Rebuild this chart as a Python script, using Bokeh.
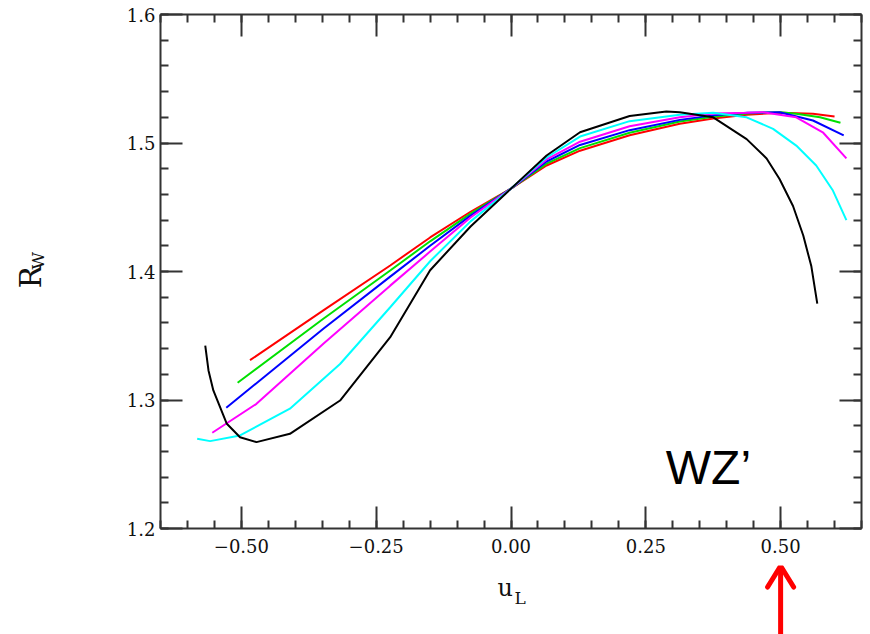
import numpy as np
from bokeh.plotting import figure
from bokeh.layouts import column
from bokeh.models import LinearAxis, FixedTicker, Label, Range1d
from bokeh.core.properties import value
from bokeh.embed import file_html
from bokeh.resources import INLINE

# ---- data ----
red_x = [-0.484, -0.348, -0.224, -0.150, -0.075, 0.0, 0.066, 0.128, 0.220, 0.313, 0.375, 0.437, 0.500, 0.560, 0.600]
red_y = [1.331, 1.3697, 1.4047, 1.4265, 1.4465, 1.4645, 1.4825, 1.494, 1.506, 1.515, 1.519, 1.522, 1.5235, 1.5227, 1.5206]

green_x = [-0.507, -0.348, -0.224, -0.150, -0.075, 0.0, 0.066, 0.128, 0.220, 0.313, 0.375, 0.437, 0.500, 0.529, 0.573, 0.611]
green_y = [1.3134, 1.3632, 1.4008, 1.4235, 1.445, 1.4645, 1.484, 1.496, 1.508, 1.5167, 1.5205, 1.523, 1.524, 1.5227, 1.520, 1.5157]

blue_x = [-0.528, -0.348, -0.224, -0.150, -0.075, 0.0, 0.066, 0.128, 0.220, 0.313, 0.375, 0.437, 0.498, 0.560, 0.617]
blue_y = [1.294, 1.3554, 1.396, 1.420, 1.4435, 1.4645, 1.4856, 1.4985, 1.510, 1.518, 1.5215, 1.5235, 1.524, 1.5175, 1.506]

magenta_x = [-0.554, -0.472, -0.348, -0.224, -0.150, -0.075, 0.0, 0.066, 0.128, 0.220, 0.313, 0.375, 0.437, 0.467, 0.529, 0.579, 0.622]
magenta_y = [1.2745, 1.297, 1.3437, 1.389, 1.4155, 1.442, 1.4645, 1.4872, 1.501, 1.513, 1.520, 1.523, 1.5235, 1.524, 1.520, 1.508, 1.488]

cyan_x = [-0.582, -0.558, -0.5025, -0.41, -0.317, -0.224, -0.150, -0.075, 0.0, 0.066, 0.128, 0.220, 0.313, 0.375, 0.437, 0.486, 0.529, 0.566, 0.597, 0.622]
cyan_y = [1.2698, 1.268, 1.2724, 1.2932, 1.328, 1.3722, 1.408, 1.439, 1.4645, 1.4887, 1.505, 1.517, 1.522, 1.5235, 1.520, 1.511, 1.498, 1.4825, 1.463, 1.440]

black_x = [-0.567, -0.561, -0.552, -0.527, -0.5025, -0.472, -0.41, -0.317, -0.224, -0.150, -0.075, 0.0, 0.066, 0.128, 0.220, 0.288, 0.313, 0.375, 0.437, 0.474, 0.498, 0.523, 0.542, 0.557, 0.568]
black_y = [1.3424, 1.323, 1.3074, 1.2815, 1.271, 1.2672, 1.2737, 1.2996, 1.3489, 1.401, 1.435, 1.4645, 1.4903, 1.5084, 1.521, 1.5245, 1.524, 1.520, 1.503, 1.488, 1.472, 1.451, 1.428, 1.404, 1.375]

x_ticks = [-0.5, -0.25, 0.0, 0.25, 0.5]
x_tick_labels = ["\u22120.50", "\u22120.25", "0.00", "0.25", "0.50"]
y_ticks = [1.2, 1.3, 1.4, 1.5, 1.6]
y_tick_labels = ["1.2", "1.3", "1.4", "1.5", "1.6"]
arrow_at = 0.5   # u_L value marked by the red arrow

series = [
    (red_x, red_y, "#ff0000"),
    (green_x, green_y, "#00e000"),
    (blue_x, blue_y, "#0000ff"),
    (magenta_x, magenta_y, "#ff00ff"),
    (cyan_x, cyan_y, "#00ffff"),
    (black_x, black_y, "#000000"),
]

# ---- layout constants (pixels) ----
FW, FH = 701, 514
LEFT, TOP, RIGHT, BOTTOM = 160, 14, 6, 37
X0, X1 = -0.65, 0.65
PX_PER_X = FW / (X1 - X0)

# ---- main figure ----
p = figure(frame_width=FW, frame_height=FH,
           x_range=Range1d(X0, X1), y_range=Range1d(1.2, 1.6),
           output_backend="svg", toolbar_location=None,
           x_axis_location=None, y_axis_location=None,
           min_border_left=LEFT, min_border_right=RIGHT, min_border_top=TOP, min_border_bottom=BOTTOM)
p.grid.visible = False
p.outline_line_color = None

x_minor = list(np.round(np.arange(-0.65, 0.6501, 0.05), 3))
y_minor = list(np.round(np.arange(1.2, 1.6001, 0.02), 3))

axis_color = "#333333"
serif = "DejaVu Serif"


def style_axis(ax, ticks, labels):
    ax.major_tick_in = 22
    ax.major_tick_out = 0
    ax.minor_tick_in = 8
    ax.minor_tick_out = 0
    ax.axis_line_width = 2
    ax.axis_line_color = axis_color
    ax.major_tick_line_width = 2
    ax.minor_tick_line_width = 2
    ax.major_tick_line_color = axis_color
    ax.minor_tick_line_color = axis_color
    ax.major_label_text_font = serif
    ax.major_label_text_font_size = "18px"
    ax.major_label_text_color = "#111111"
    if labels is None:
        ax.major_label_overrides = {t: "" for t in ticks}
        ax.major_label_standoff = 0
    else:
        ax.major_label_overrides = dict(zip(ticks, labels))


xb = LinearAxis(ticker=FixedTicker(ticks=x_ticks, minor_ticks=x_minor))
style_axis(xb, x_ticks, x_tick_labels)
xb.major_label_standoff = 10
p.add_layout(xb, "below")

xt = LinearAxis(ticker=FixedTicker(ticks=x_ticks, minor_ticks=x_minor))
style_axis(xt, x_ticks, None)
p.add_layout(xt, "above")

yl = LinearAxis(ticker=FixedTicker(ticks=y_ticks, minor_ticks=y_minor))
style_axis(yl, y_ticks, y_tick_labels)
yl.major_label_standoff = 5
p.add_layout(yl, "left")

yr = LinearAxis(ticker=FixedTicker(ticks=y_ticks, minor_ticks=y_minor))
style_axis(yr, y_ticks, None)
p.add_layout(yr, "right")

for xs, ys, c in series:
    p.line(xs, ys, line_color=c, line_width=2)

p.add_layout(Label(x=0.287, y=1.2472, text="WZ\u2019", text_font="Liberation Sans",
                   text_font_size="48px", text_color="black", text_baseline="alphabetic"))

# R_W title in the left panel
p.add_layout(Label(x=-0.892, y=1.3868, text="R", text_font=serif, angle=np.pi / 2,
                   text_font_size="30px", text_color="#111111", text_baseline="alphabetic"), "left")
p.add_layout(Label(x=-0.878, y=1.4015, text="W", text_font=serif, angle=np.pi / 2,
                   text_font_size="17px", text_color="#111111", text_baseline="alphabetic"), "left")

# ---- strip below (frame aligned with the main frame): u_L title and the red arrow ----
p_height = TOP + FH + BOTTOM
SH = 634 - p_height
s = figure(frame_width=FW, frame_height=SH, x_range=Range1d(X0, X1), y_range=Range1d(SH, 0),
           output_backend="svg", toolbar_location=None,
           x_axis_location=None, y_axis_location=None,
           min_border_left=LEFT, min_border_right=RIGHT, min_border_top=0, min_border_bottom=0)
s.grid.visible = False
s.outline_line_color = None

s.text(x=[-0.025], y=[587 - p_height], text=["u"], text_font=value(serif), text_font_size="24px",
       text_color="#111111", text_baseline="alphabetic")
s.text(x=[0.0065], y=[597 - p_height], text=["L"], text_font=value(serif), text_font_size="17px",
       text_color="#111111", text_baseline="alphabetic")

# arrow: shaft and an open V head
tip = 0.5
head_dx = 13 / PX_PER_X
s.segment(x0=[arrow_at], y0=[SH + 5], x1=[arrow_at], y1=[tip + 2], line_color="#ff0000", line_width=5)
s.multi_line(xs=[[arrow_at - head_dx, arrow_at, arrow_at + head_dx]], ys=[[tip + 21, tip, tip + 21]],
             line_color="#ff0000", line_width=5, line_join="round", line_cap="round")

open("out.html", "w").write(file_html(column(p, s, spacing=0), INLINE))
